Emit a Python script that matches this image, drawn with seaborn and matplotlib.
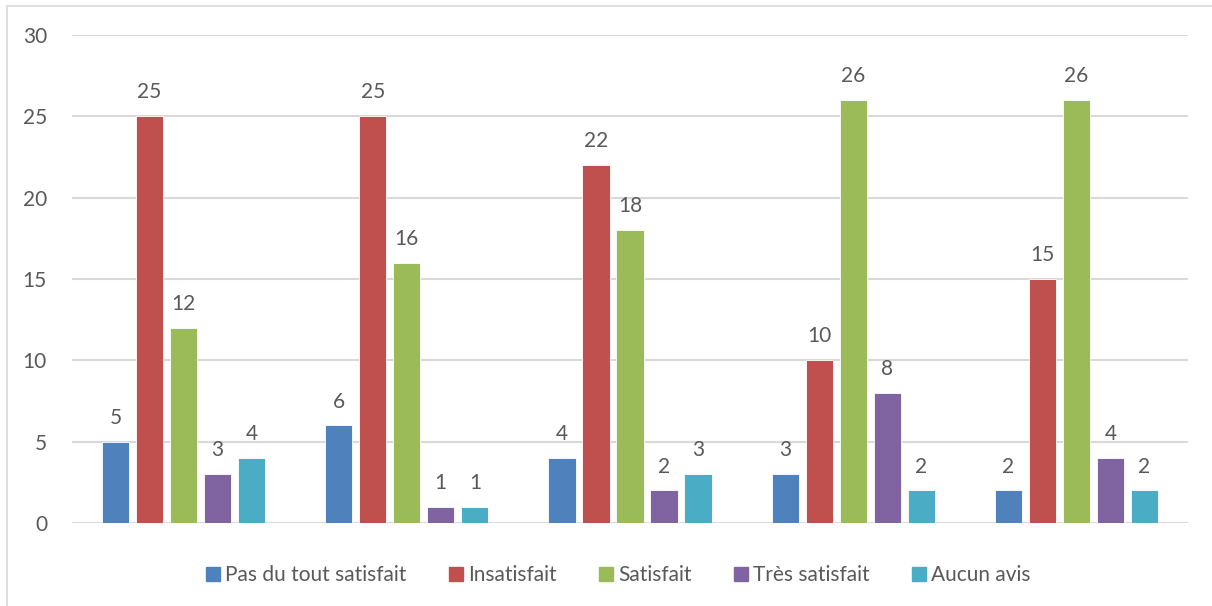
import matplotlib
matplotlib.use("Agg")
import matplotlib.pyplot as plt
import seaborn as sns
import pandas as pd
from matplotlib.lines import Line2D

# Satisfaction counts for five groups, one list per answer
groups = ["1", "2", "3", "4", "5"]
series_names = ["Pas du tout satisfait", "Insatisfait", "Satisfait", "Très satisfait", "Aucun avis"]
pas_du_tout = [5, 6, 4, 3, 2]
insatisfait = [25, 25, 22, 10, 15]
satisfait = [12, 16, 18, 26, 26]
tres_satisfait = [3, 1, 2, 8, 4]
aucun_avis = [4, 1, 3, 2, 2]
colors = ["#4F81BD", "#C0504D", "#9BBB59", "#8064A2", "#4BACC6"]

rows = []
for name, vals in zip(series_names,
                      [pas_du_tout, insatisfait, satisfait, tres_satisfait, aucun_avis]):
    for g, v in zip(groups, vals):
        rows.append({"groupe": g, "réponse": name, "valeur": v})
df = pd.DataFrame(rows)

sns.set_theme(style="white")
plt.rcParams["font.family"] = ["Lato", "DejaVu Sans"]
text_color = "#595959"
grid_color = "#D9D9D9"
fs = 15

fig = plt.figure(figsize=(12.12, 6.06), dpi=100)
ax = fig.add_axes([72 / 1212, 1 - 523 / 606, (1188 - 72) / 1212, (523 - 35) / 606])

sns.barplot(data=df, x="groupe", y="valeur", hue="réponse", hue_order=series_names,
            palette=colors, width=0.762, gap=0.2, saturation=1, ax=ax, legend=False,
            edgecolor="white", linewidth=0.6)

ax.set_ylim(0, 30)
ax.set_xlim(-0.5, 4.5)
ax.set_yticks(range(0, 31, 5))
ax.yaxis.grid(True, color=grid_color, linewidth=1.5)
ax.set_axisbelow(True)
for s in ax.spines.values():
    s.set_visible(False)
ax.set_xticks([])
ax.set_xlabel("")
ax.set_ylabel("")
ax.tick_params(axis="y", length=0, pad=18, labelsize=fs, labelcolor=text_color)

for cont in ax.containers:
    ax.bar_label(cont, fmt="%d", padding=10, fontsize=fs, color=text_color)

handles = [Line2D([], [], marker="s", linestyle="none", markersize=10,
                  markerfacecolor=c, markeredgecolor=c) for c in colors]
fig.legend(handles, series_names, loc="center", bbox_to_anchor=(617 / 1212, 1 - 575 / 606),
           ncol=5, frameon=False, fontsize=fs, labelcolor=text_color,
           handletextpad=0.15, columnspacing=1.9, handlelength=0.9)

# Chart frame (top and left edges)
fig.add_artist(Line2D([7 / 1212, 7 / 1212], [0, 1 - 6 / 606], transform=fig.transFigure,
                      color=grid_color, linewidth=1.2))
fig.add_artist(Line2D([7 / 1212, 1], [1 - 6 / 606, 1 - 6 / 606], transform=fig.transFigure,
                      color=grid_color, linewidth=1.2))

fig.savefig("out.png", dpi=100, facecolor="white")
